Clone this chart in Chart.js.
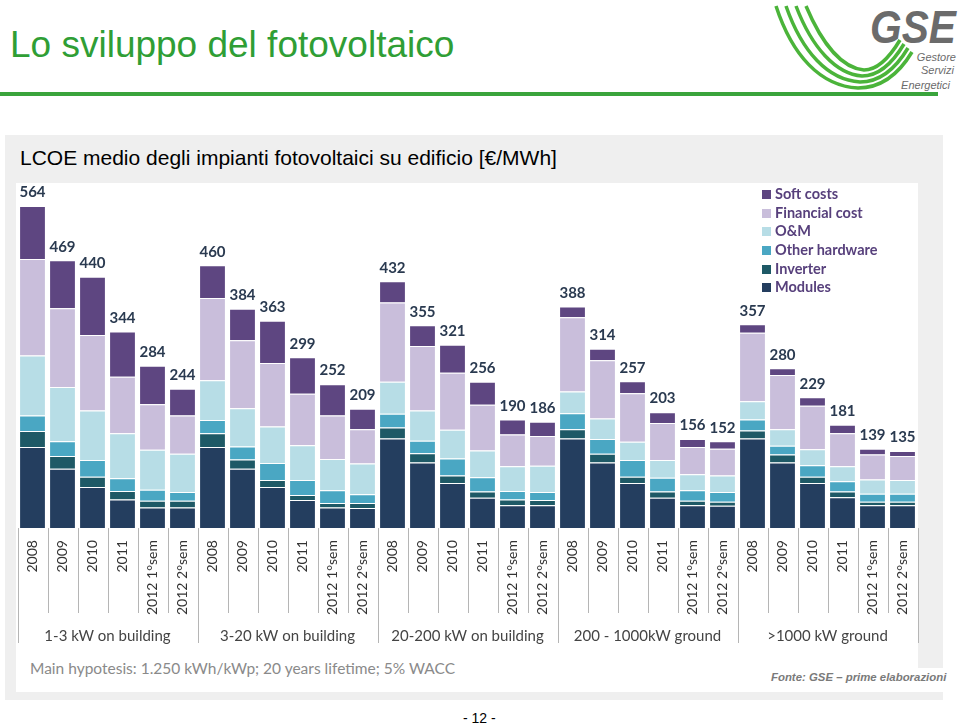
<!DOCTYPE html>
<html>
<head>
<meta charset="utf-8">
<script src="https://cdn.jsdelivr.net/npm/chart.js@4.4.1/dist/chart.umd.min.js"></script>
<style>
  body { margin: 0; background: #fff; }
  #page { position: relative; width: 960px; height: 726px; overflow: hidden; font-family: "Liberation Sans", Arial, sans-serif; }
  #title { position: absolute; left: 10px; top: 24px; font-size: 37px; color: #2f9e35; }
  #rule { position: absolute; left: 0; top: 92px; width: 938px; height: 4px; background: #3aa43c; }
  #panel { position: absolute; left: 5px; top: 135px; width: 938px; height: 565px; background: #efefef; }
  #subtitle { position: absolute; left: 20px; top: 146px; font-size: 21px; color: #000; }
  #white { position: absolute; left: 16px; top: 183px; width: 902px; height: 509px; background: #fff; }
  #white2 { position: absolute; left: 760px; top: 668px; width: 183px; height: 24px; background: #fff; }
  #wrap { position: absolute; left: 0; top: 183px; width: 935px; height: 476px; }
  #legend { position: absolute; left: 762px; top: 185px; margin: 0; padding: 0; list-style: none; font-family: Lato, sans-serif; font-weight: bold; font-size: 14.5px; color: #57407c; }
  #legend li { height: 18.7px; line-height: 18px; white-space: nowrap; }
  #legend span { display: inline-block; width: 9px; height: 9px; margin-right: 4px; }
  #note { position: absolute; left: 30px; top: 659px; font-family: Lato, sans-serif; font-size: 15.5px; color: #8a8a8a; }
  #fonte { position: absolute; left: 771px; top: 671px; font-size: 11.4px; font-style: italic; font-weight: bold; color: #7a7a7a; }
  #pagenum { position: absolute; left: 463px; top: 710px; font-size: 14px; color: #000; }
</style>
</head>
<body>
<div id="page">
  <div id="title">Lo sviluppo del fotovoltaico</div>
  <svg style="position:absolute;left:770px;top:0" width="190" height="96">
    <g fill="none" stroke="#4bb43a" stroke-width="3.5">
      <path d="M6,6 C22,55 50,86 88,88 C112,88 130,72 142,52"/>
      <path d="M16,6 C32,52 58,80 90,82 C110,82 126,68 138,48"/>
      <path d="M26,6 C42,48 66,74 92,76 C108,76 122,64 134,44"/>
      <path d="M36,6 C52,44 72,68 94,70 C106,70 118,60 130,40"/>
    </g>
    <text x="100" y="43" font-family="Liberation Sans" font-size="46" font-weight="bold" font-style="italic" fill="#6b6b6b" textLength="86" lengthAdjust="spacingAndGlyphs">GSE</text>
    <text x="186" y="61" text-anchor="end" font-family="Liberation Sans" font-size="11" font-style="italic" fill="#6b6b6b">Gestore</text>
    <text x="184" y="74" text-anchor="end" font-family="Liberation Sans" font-size="11" font-style="italic" fill="#6b6b6b">Servizi</text>
    <text x="180" y="89" text-anchor="end" font-family="Liberation Sans" font-size="11" font-style="italic" fill="#6b6b6b">Energetici</text>
  </svg>
  <div id="rule"></div>
  <div id="panel"></div>
  <div id="subtitle">LCOE medio degli impianti fotovoltaici su edificio [€/MWh]</div>
  <div id="white"></div>
  <div id="white2"></div>
  <div id="wrap"><canvas id="myChart" width="935" height="476"></canvas></div>
  <ul id="legend"></ul>
  <div id="note">Main hypotesis: 1.250 kWh/kWp; 20 years lifetime; 5% WACC</div>
  <div id="fonte">Fonte: GSE – prime elaborazioni</div>
  <div id="pagenum">- 12 -</div>
</div>
<script>
const periods = ['2008', '2009', '2010', '2011', '2012 1°sem', '2012 2°sem'];
const groups = ['1-3 kW on building', '3-20 kW on building', '20-200 kW on building', '200 - 1000kW ground', '>1000 kW ground'];
const categories = [].concat(periods, periods, periods, periods, periods);

// €/MWh, one value per bar
const modules   = [142, 104, 72, 50, 36, 36,  142, 104, 72, 49, 36, 35,  157, 115, 79, 53, 40, 40,  157, 115, 79, 53, 40, 39,  157, 115, 79, 54, 40, 40];
const inverter  = [28, 22, 18, 15, 12, 12,  24, 16, 12, 9, 8, 9,  19, 16, 13, 11, 10, 9,  16, 15, 11, 11, 8, 7,  14, 14, 11, 10, 6, 6];
const otherHw   = [27, 26, 29, 22, 19, 15,  23, 23, 30, 26, 22, 15,  24, 22, 30, 25, 15, 14,  28, 26, 29, 24, 18, 17,  19, 15, 20, 18, 14, 14];
const om        = [105, 95, 87, 79, 70, 67,  70, 67, 64, 61, 55, 54,  56, 53, 50, 47, 43, 46,  38, 36, 32, 31, 28, 29,  32, 29, 28, 26, 25, 24];
const financial = [169, 138, 132, 99, 80, 67,  144, 119, 111, 90, 76, 60,  139, 113, 100, 80, 56, 52,  130, 102, 85, 65, 48, 47,  120, 95, 76, 58, 44, 42];
const softCosts = [93, 84, 102, 79, 67, 47,  57, 55, 74, 64, 55, 36,  37, 36, 49, 40, 26, 25,  19, 20, 21, 19, 14, 13,  15, 12, 15, 15, 10, 9];

const series = [
    { label: 'Modules', data: modules, color: '#243e5f' },
    { label: 'Inverter', data: inverter, color: '#1e5966' },
    { label: 'Other hardware', data: otherHw, color: '#4aa7c3' },
    { label: 'O&M', data: om, color: '#b7dde6' },
    { label: 'Financial cost', data: financial, color: '#c9bedb' },
    { label: 'Soft costs', data: softCosts, color: '#5e4681' }
];

// legend, top item = last stacked series
const legendEl = document.getElementById('legend');
series.slice().reverse().forEach(function (s) {
    const li = document.createElement('li');
    li.innerHTML = '<span style="background:' + s.color + '"></span>' + s.label.replace('&', '&amp;');
    legendEl.appendChild(li);
});

// totals above each column
const totalsPlugin = {
    id: 'totals',
    afterDatasetsDraw(chart) {
        const ctx = chart.ctx;
        const topMeta = chart.getDatasetMeta(chart.data.datasets.length - 1);
        ctx.save();
        ctx.font = 'bold 15px Lato';
        ctx.fillStyle = '#2a3a50';
        ctx.textAlign = 'center';
        ctx.textBaseline = 'bottom';
        topMeta.data.forEach(function (bar, i) {
            let total = 0;
            chart.data.datasets.forEach(function (ds) { total += ds.data[i]; });
            ctx.fillText(total, bar.x, bar.y - 6);
        });
        ctx.restore();
    }
};

// separators between categories (short) and between groups (long)
const separatorPlugin = {
    id: 'separators',
    afterDraw(chart) {
        const x = chart.scales.x;
        const x2 = chart.scales.x2;
        const ctx = chart.ctx;
        const n = chart.data.labels.length;
        const step = x.getPixelForValue(1) - x.getPixelForValue(0);
        ctx.save();
        ctx.strokeStyle = '#b5b5b5';
        ctx.lineWidth = 1;
        for (let i = 0; i <= n; i++) {
            const px = Math.round(x.getPixelForValue(0) - step / 2 + i * step) + 0.5;
            const isGroup = i % periods.length === 0;
            ctx.beginPath();
            ctx.moveTo(px, chart.chartArea.bottom);
            ctx.lineTo(px, isGroup ? x2.bottom - 2 : x.bottom - 6);
            ctx.stroke();
        }
        ctx.restore();
    }
};

const ctx = document.getElementById('myChart').getContext('2d');
const myChart = new Chart(ctx, {
    type: 'bar',
    data: {
        labels: categories,
        datasets: series.map(function (s) {
            return {
                label: s.label,
                data: s.data,
                backgroundColor: s.color,
                borderColor: '#ffffff',
                borderWidth: { top: 1, bottom: 0, left: 0, right: 0 },
                borderSkipped: false,
                categoryPercentage: 1,
                barPercentage: 0.83
            };
        })
    },
    options: {
        responsive: false,
        animation: false,
        layout: { padding: { left: 17.5, right: 17.5, top: 7, bottom: 14 } },
        plugins: {
            legend: { display: false },
            tooltip: { enabled: false }
        },
        scales: {
            x: {
                stacked: true,
                offset: true,
                grid: { display: false },
                border: { display: false },
                ticks: {
                    autoSkip: false,
                    minRotation: 90,
                    maxRotation: 90,
                    padding: 4,
                    color: '#333',
                    font: { family: 'Lato', size: 14 }
                }
            },
            x2: {
                type: 'category',
                labels: groups,
                position: 'bottom',
                offset: true,
                grid: { display: false },
                border: { display: false },
                ticks: {
                    autoSkip: false,
                    maxRotation: 0,
                    padding: 0,
                    color: '#444',
                    font: { family: 'Lato', size: 15 }
                }
            },
            y: {
                stacked: true,
                display: false,
                min: 0,
                max: 592
            }
        }
    },
    plugins: [totalsPlugin, separatorPlugin]
});
</script>
</body>
</html>
